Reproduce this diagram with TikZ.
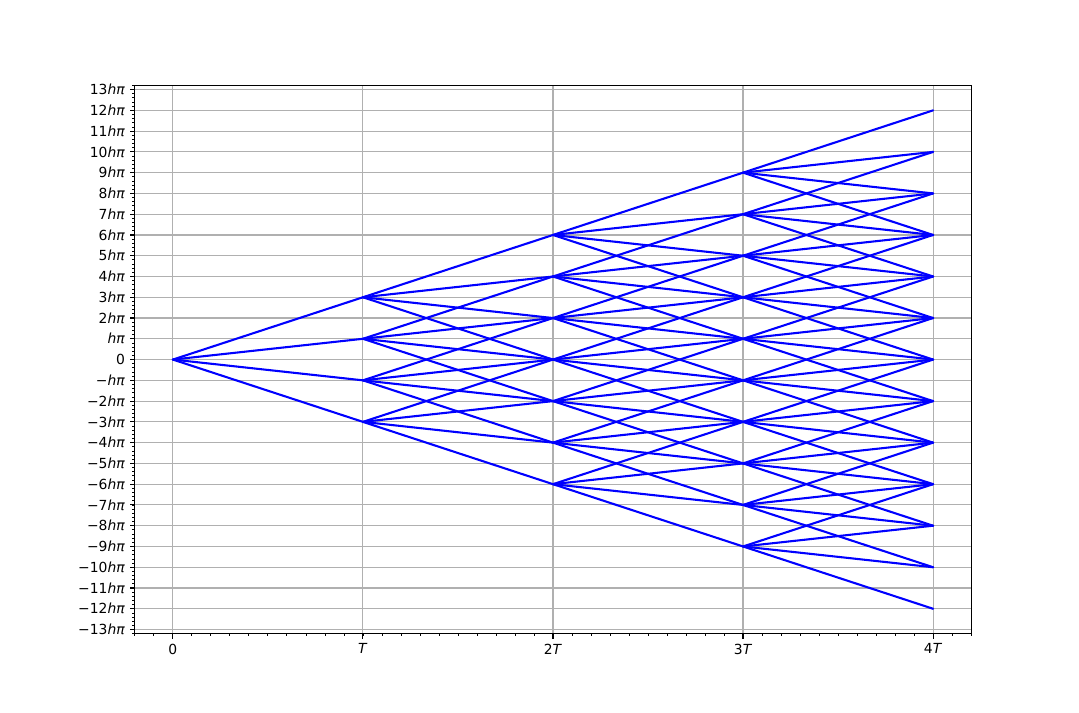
\documentclass[tikz,border=0pt]{standalone}
\usepackage{fontspec}
\setmainfont{DejaVu Sans}
\definecolor{gridgray}{HTML}{B0B0B0}
\newcommand\hp{\textit{hπ}}
\tikzset{
  gridline/.style={draw=gridgray, line width=0.8pt},
  spine/.style={draw=black, line width=0.8pt},
  majtick/.style={draw=black, line width=0.8pt},
  mintick/.style={draw=black, line width=0.6pt},
  edge/.style={draw=blue, line width=1.5pt, line cap=round},
  ticklab/.style={inner sep=0pt, font=\fontsize{10pt}{12pt}\selectfont}
}
\begin{document}
\begin{tikzpicture}[x=0.72pt,y=-0.72pt]
\useasboundingbox[fill=white] (0,0) rectangle (1079,712);
\begin{scope}[shift={(124.4775pt,-258.8832pt)},x=136.836pt,y=14.9522pt]
  % grid
  \foreach \k in {0,...,4} \draw[gridline] (\k,-13.2) -- (\k,13.2);
  \foreach \v in {-13,...,13} \draw[gridline] (-0.2,\v) -- (4.2,\v);
  % lattice points
  \foreach \k in {0,...,4} {
    \pgfmathtruncatemacro\n{3*\k}
    \foreach \i in {0,...,\n} {
      \coordinate (p\k_\i) at (\k,{-3*\k+2*\i});
    }
  }
  % edges
  \foreach \k in {0,...,3} {
    \pgfmathtruncatemacro\n{3*\k}
    \pgfmathtruncatemacro\kk{\k+1}
    \foreach \i in {0,...,\n} {
      \pgfmathtruncatemacro\ja{\i}
      \pgfmathtruncatemacro\jb{\i+1}
      \pgfmathtruncatemacro\jc{\i+2}
      \pgfmathtruncatemacro\jd{\i+3}
      \draw[edge] (p\k_\i) -- (p\kk_\ja);
      \draw[edge] (p\k_\i) -- (p\kk_\jb);
      \draw[edge] (p\k_\i) -- (p\kk_\jc);
      \draw[edge] (p\k_\i) -- (p\kk_\jd);
    }
  }
  % spines
  \draw[spine] (-0.2,-13.2) rectangle (4.2,13.2);
  % ticks
  \foreach \i in {-66,...,66} \draw[mintick] (-0.2,\i/5) -- ++(-2pt,0);
  \foreach \v in {-13,...,13} \draw[majtick] (-0.2,\v) -- ++(-3.5pt,0);
  \foreach \i in {-2,...,42} \draw[mintick] (\i/10,-13.2) -- ++(0,-2pt);
  \foreach \k in {0,...,4} \draw[majtick] (\k,-13.2) -- ++(0,-3.5pt);
  % y labels
  \foreach \v/\t in {13/13\hp,12/12\hp,11/11\hp,10/10\hp,9/9\hp,8/8\hp,7/7\hp,6/6\hp,5/5\hp,4/4\hp,3/3\hp,2/2\hp,1/\hp,0/0,
      -1/−\hp,-2/−2\hp,-3/−3\hp,-4/−4\hp,-5/−5\hp,-6/−6\hp,-7/−7\hp,-8/−8\hp,-9/−9\hp,-10/−10\hp,-11/−11\hp,-12/−12\hp,-13/−13\hp}
    \path (-0.2,\v) ++(-7pt,0) node[ticklab, anchor=east] (yl\v) {\t};
  % x labels
  \foreach \k/\t in {0/0,1/\textit{T},2/2\textit{T},3/3\textit{T},4/4\textit{T}}
    \path (\k,-13.2) ++(0,-7pt) node[ticklab, anchor=north] (xl\k) {\t};
\end{scope}
\end{tikzpicture}
\end{document}
